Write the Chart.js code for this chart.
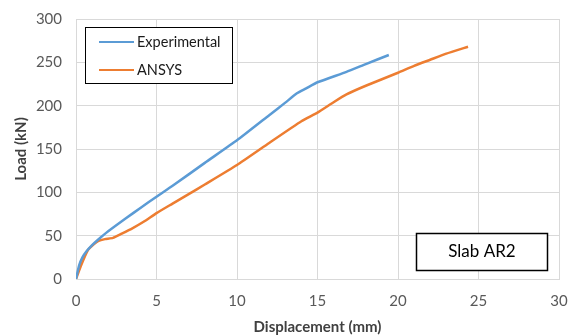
<!DOCTYPE html>
<html>
<head>
<meta charset="utf-8">
<script src="https://cdn.jsdelivr.net/npm/chart.js@4"></script>
<style>
    html, body { margin: 0; padding: 0; background: #ffffff; }
    #wrap { width: 576px; height: 336px; position: relative; }
</style>
</head>
<body>
<div id="wrap"><canvas id="loadChart" width="576" height="336"></canvas></div>
<script>
    // displacement (mm) / load (kN)
    const expDisp = [0, 0.2, 0.4, 0.63, 1, 1.35, 2, 3.1, 4, 5, 6, 8, 10, 12, 13, 13.7, 14.3, 15, 16.8, 18, 19.43];
    const expLoad = [0, 16, 25, 31.5, 39, 45, 55, 70, 82, 95, 107.5, 134, 160, 189, 203.5, 214, 220, 227, 239, 248, 258.5];
    const ansDisp = [0, 0.3, 0.73, 1.1, 1.4, 1.8, 2.3, 2.8, 3.5, 4.2, 5, 6, 7, 8, 10, 12, 14, 15, 16, 16.8, 18, 20, 21, 22, 23, 24.35];
    const ansLoad = [0, 15, 33, 40, 44, 46, 47.5, 52, 58.5, 66, 76, 87, 98, 109, 131.5, 157, 182, 192, 204, 213, 223, 238, 246, 253, 260, 268];
    const seriesNames = ['Experimental', 'ANSYS'];
    const seriesColors = ['#5b9bd5', '#ed7d31'];
    const xTicks = [0, 5, 10, 15, 20, 25, 30];
    const yTicks = [0, 50, 100, 150, 200, 250, 300];
    const panelLabel = 'Slab AR2';

    const toPoints = (xs, ys) => xs.map((x, i) => ({ x: x, y: ys[i] }));
    const fontFamily = 'Lato, "Open Sans", sans-serif';

    const boxesPlugin = {
        id: 'boxes',
        afterDatasetsDraw(chart) {
            const ctx = chart.ctx;
            ctx.save();
            // legend box
            ctx.fillStyle = '#ffffff';
            ctx.fillRect(85, 27, 147, 56);
            ctx.strokeStyle = '#000000';
            ctx.lineWidth = 1;
            ctx.strokeRect(85.5, 27.5, 147, 56);
            ctx.font = '14.5px ' + fontFamily;
            ctx.textBaseline = 'middle';
            chart.data.datasets.forEach((ds, i) => {
                const y = 42 + i * 28;
                ctx.strokeStyle = ds.borderColor;
                ctx.lineWidth = 2.2;
                ctx.beginPath();
                ctx.moveTo(99, y);
                ctx.lineTo(134, y);
                ctx.stroke();
                ctx.fillStyle = '#1a1a1a';
                ctx.fillText(ds.label, 137, y);
            });
            // panel label box
            ctx.fillStyle = '#ffffff';
            ctx.fillRect(416, 233, 132, 38);
            ctx.strokeStyle = '#000000';
            ctx.lineWidth = 1.5;
            ctx.strokeRect(416.5, 233.5, 131, 37);
            ctx.fillStyle = '#000000';
            ctx.font = '17px ' + fontFamily;
            ctx.textAlign = 'center';
            ctx.fillText(panelLabel, 482, 252);
            ctx.restore();
        }
    };

    new Chart(document.getElementById('loadChart'), {
        type: 'scatter',
        data: {
            datasets: [{
                label: seriesNames[0],
                data: toPoints(expDisp, expLoad),
                showLine: true,
                borderColor: seriesColors[0],
                backgroundColor: seriesColors[0],
                borderWidth: 2.5,
                pointRadius: 0,
                tension: 0.15
            }, {
                label: seriesNames[1],
                data: toPoints(ansDisp, ansLoad),
                showLine: true,
                borderColor: seriesColors[1],
                backgroundColor: seriesColors[1],
                borderWidth: 2.5,
                pointRadius: 0,
                tension: 0.15
            }]
        },
        options: {
            responsive: false,
            animation: false,
            layout: { padding: { top: 19, right: 17, left: 12, bottom: 0 } },
            plugins: {
                legend: { display: false },
                tooltip: { enabled: false }
            },
            scales: {
                x: {
                    type: 'linear',
                    min: 0,
                    max: 30,
                    afterBuildTicks: (axis) => { axis.ticks = xTicks.map(v => ({ value: v })); },
                    grid: { color: '#d9d9d9', lineWidth: 1, drawTicks: false },
                    border: { color: '#d9d9d9' },
                    ticks: { color: '#595959', font: { family: fontFamily, size: 15 }, padding: 13 },
                    title: {
                        display: true,
                        text: 'Displacement (mm)',
                        color: '#404040',
                        font: { family: fontFamily, size: 15, weight: 'bold' },
                        padding: { top: 2, bottom: 0 }
                    },
                    afterFit: (axis) => {
                        axis.height = 57;
                        axis.paddingLeft = 0;
                        axis.paddingRight = 0;
                    }
                },
                y: {
                    type: 'linear',
                    min: 0,
                    max: 300,
                    afterBuildTicks: (axis) => { axis.ticks = yTicks.map(v => ({ value: v })); },
                    grid: { color: '#d9d9d9', lineWidth: 1, drawTicks: false },
                    border: { color: '#d9d9d9' },
                    ticks: { color: '#595959', font: { family: fontFamily, size: 15 }, padding: 14 },
                    title: {
                        display: true,
                        text: 'Load (kN)',
                        color: '#404040',
                        font: { family: fontFamily, size: 15, weight: 'bold' },
                        padding: { top: 0, bottom: 4 }
                    },
                    afterFit: (axis) => {
                        axis.width = 64;
                        axis.paddingTop = 0;
                        axis.paddingBottom = 0;
                    }
                }
            }
        },
        plugins: [boxesPlugin]
    });
</script>
</body>
</html>
